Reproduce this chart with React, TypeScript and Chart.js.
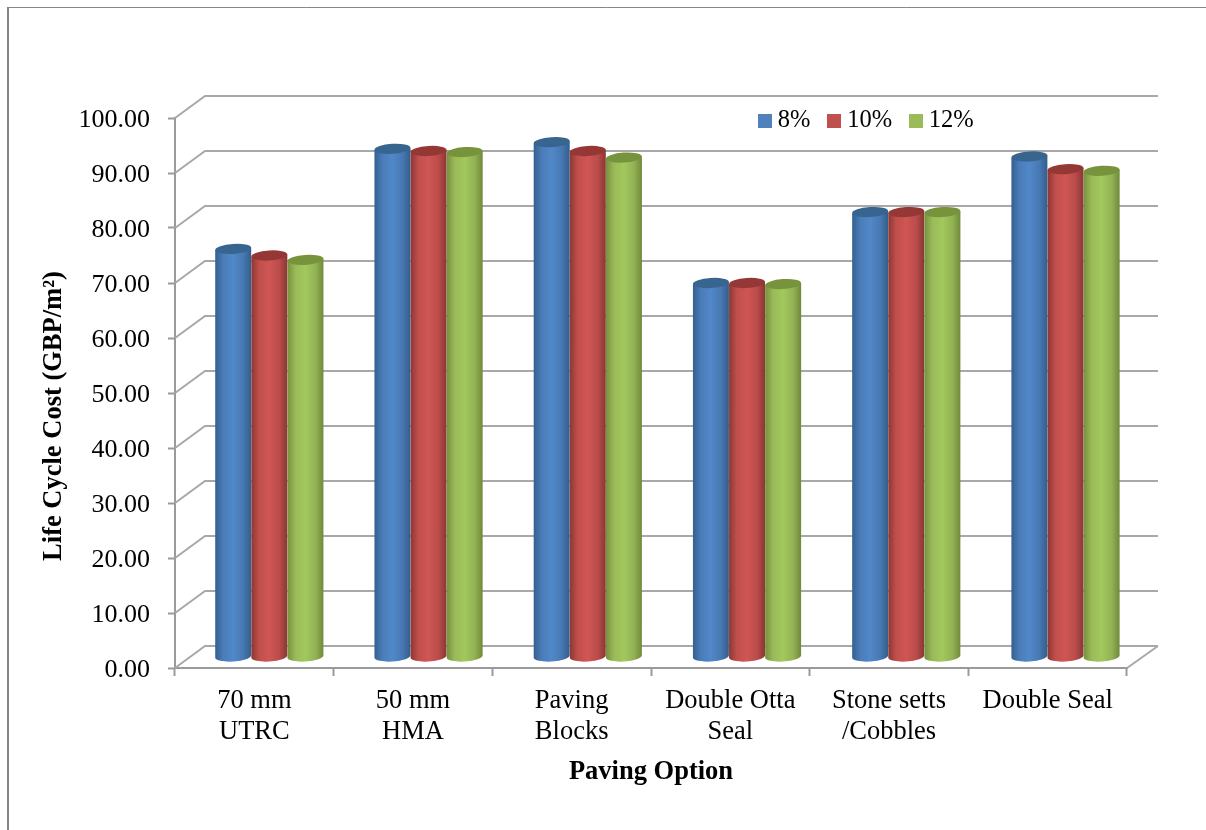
import React, { useEffect, useRef } from "react";
import { Chart, registerables } from "chart.js";

Chart.register(...registerables);

const categories = [
  ["70 mm", "UTRC"],
  ["50 mm", "HMA"],
  ["Paving", "Blocks"],
  ["Double Otta", "Seal"],
  ["Stone setts", "/Cobbles"],
  ["Double Seal"],
];
const rate8 = [74.2, 92.4, 93.6, 68, 80.9, 91];
const rate10 = [73, 92, 92, 68, 80.9, 88.7];
const rate12 = [72.2, 91.8, 90.8, 67.8, 80.9, 88.4];
const seriesNames = ["8%", "10%", "12%"];

const colors = ["#4f81bd", "#c0504d", "#9bbb59"];
const ramps = [
  ["#355f90", "#4a7cb8", "#5188c9", "#4778b2", "#345d8c"],
  ["#8c3735", "#c04f4c", "#cf5654", "#b94c4a", "#8a3634"],
  ["#76913f", "#9aba58", "#a3c85e", "#93b254", "#6f8a3a"],
];
const caps = ["#386590", "#953735", "#77933c"];

const DEPTH_X = 31;
const DEPTH_Y = 22;
const FONT = "'Liberation Serif', 'Times New Roman', serif";
const GRID = "#a8a8a8";
const AXIS = "#9a9a9a";

const shiftX = (x: number) => x + 15 + (x - 254) * 0.0036;
const shiftY = (y: number) => y - 11;

const swatch = (color: string) => {
  const c = document.createElement("canvas");
  c.width = 14;
  c.height = 14;
  const g = c.getContext("2d")!;
  g.fillStyle = color;
  g.fillRect(0, 0, 14, 14);
  return c;
};

const cylinderPlugin = {
  id: "cylinders",
  // The default flat bars are replaced: each cylinder is drawn from the bar
  // element that the library has placed, blue first so that later series overlap.
  beforeDatasetDraw() {
    return false;
  },
  beforeDatasetsDraw(chart: any) {
    const { ctx } = chart;
    const tilt = -0.065;
    const ry = 5;
    chart.data.datasets.forEach((_: any, idx: number) => {
      chart.getDatasetMeta(idx).data.forEach((bar: any) => {
        const { x, y, base, width } = bar.getProps(["x", "y", "base", "width"], true);
        const cx = shiftX(x);
        const top = shiftY(y);
        const bottom = shiftY(base);
        const rx = width / 2;
        const dy = Math.sin(tilt) * rx;
        const grad = ctx.createLinearGradient(cx - rx, 0, cx + rx, 0);
        [0, 0.22, 0.5, 0.78, 1].forEach((s, i) => grad.addColorStop(s, ramps[idx][i]));
        ctx.save();
        ctx.beginPath();
        ctx.moveTo(cx - rx, top - dy);
        ctx.lineTo(cx - rx, bottom - dy);
        ctx.ellipse(cx, bottom, rx, ry, tilt, Math.PI, 0, true);
        ctx.lineTo(cx + rx, top + dy);
        ctx.closePath();
        ctx.fillStyle = grad;
        ctx.fill();
        ctx.beginPath();
        ctx.ellipse(cx, top, rx, ry, tilt, 0, Math.PI * 2);
        ctx.fillStyle = caps[idx];
        ctx.fill();
        ctx.restore();
      });
    });
  },
};

const framePlugin = {
  id: "frame3d",
  afterLayout(chart: any) {
    const lg = chart.legend;
    if (lg) {
      lg.left = 741;
      lg.top = 85;
      lg.bottom = 135;
      lg.adjustHitBoxes();
    }
    // The y title sits 23px below the middle of the axis in the reference.
    const yScale = chart.scales.y;
    if (yScale && !yScale.__titleMoved) {
      yScale.__titleMoved = true;
      const draw = yScale.drawTitle.bind(yScale);
      yScale.drawTitle = (...a: any[]) => {
        const { top, bottom } = yScale;
        yScale.top = top + 23;
        yScale.bottom = bottom + 23;
        draw(...a);
        yScale.top = top;
        yScale.bottom = bottom;
      };
    }
  },
  beforeDraw(chart: any) {
    const { ctx, width, height } = chart;
    ctx.save();
    ctx.strokeStyle = "#868686";
    ctx.lineWidth = 1;
    ctx.beginPath();
    ctx.moveTo(7, 7.5);
    ctx.lineTo(width, 7.5);
    ctx.stroke();
    ctx.lineWidth = 2;
    ctx.beginPath();
    ctx.moveTo(8, 7);
    ctx.lineTo(8, height);
    ctx.stroke();
    ctx.restore();
  },
  beforeDatasetsDraw(chart: any) {
    const { ctx, chartArea, scales } = chart;
    const yScale = scales.y;
    const { left, right, bottom } = chartArea;
    ctx.save();
    ctx.lineWidth = 2;
    ctx.strokeStyle = GRID;
    yScale.ticks.forEach((t: any) => {
      const y = yScale.getPixelForValue(t.value);
      ctx.beginPath();
      ctx.moveTo(left, y);
      ctx.lineTo(left + DEPTH_X - 1, y - DEPTH_Y);
      ctx.lineTo(right + DEPTH_X, y - DEPTH_Y);
      ctx.stroke();
    });
    ctx.beginPath();
    ctx.moveTo(right, bottom);
    ctx.lineTo(right + DEPTH_X, bottom - DEPTH_Y);
    ctx.stroke();
    ctx.restore();
  },
};

export default function App() {
  const ref = useRef<HTMLCanvasElement>(null);
  useEffect(() => {
    const chart = new Chart(ref.current!, {
      type: "bar",
      data: {
        labels: categories as any,
        datasets: [rate8, rate10, rate12].map((d, i) => ({
          label: seriesNames[i],
          data: d,
          backgroundColor: colors[i],
          categoryPercentage: 108 / 158.7,
          barPercentage: 1,
        })),
      },
      plugins: [framePlugin, cylinderPlugin],
      options: {
        animation: false,
        responsive: false,
        layout: {
          autoPadding: false,
          padding: { left: 38, right: 79, top: 68, bottom: 42 },
        },
        plugins: {
          title: { display: false },
          tooltip: { enabled: false },
          legend: {
            position: "top",
            align: "start",
            fullSize: false,
            maxHeight: 50,
            labels: {
              usePointStyle: true,
              pointStyleWidth: 1,
              padding: 23.5,
              color: "#000",
              font: { family: FONT, size: 24.5 },
              generateLabels: () =>
                seriesNames.map((n, i) => ({
                  text: n,
                  pointStyle: swatch(colors[i]),
                  fontColor: "#000",
                  datasetIndex: i,
                  lineWidth: 0,
                })),
            },
          },
        },
        scales: {
          x: {
            afterFit: (s: any) => {
              s.height = 120;
            },
            grid: {
              display: true,
              drawOnChartArea: false,
              drawTicks: true,
              tickLength: 8,
              tickWidth: 2,
              color: AXIS,
            },
            border: { color: AXIS, width: 2 },
            ticks: {
              color: "#000",
              padding: 10,
              maxRotation: 0,
              autoSkip: false,
              font: { family: FONT, size: 26.5, lineHeight: 1.17 },
            },
            title: {
              display: true,
              text: "Paving Option",
              color: "#000",
              padding: 0,
              font: { family: FONT, size: 26.5, weight: "bold" },
            },
          },
          y: {
            min: 0,
            max: 100,
            afterFit: (s: any) => {
              s.width = 137;
            },
            grid: {
              display: true,
              drawOnChartArea: false,
              drawTicks: true,
              tickLength: 7,
              tickWidth: 2,
              color: AXIS,
            },
            border: { color: AXIS, width: 2 },
            ticks: {
              stepSize: 10,
              color: "#000",
              padding: 18,
              labelOffset: 2,
              callback: (v: any) => Number(v).toFixed(2),
              font: { family: FONT, size: 26 },
            },
            title: {
              display: true,
              text: "Life Cycle Cost (GBP/m²)",
              color: "#000",
              padding: 0,
              font: { family: FONT, size: 26.5, weight: "bold" },
            },
          },
        },
      } as any,
    });
    return () => chart.destroy();
  }, []);
  return (
    <canvas
      ref={ref}
      width={1206}
      height={830}
      style={{ position: "fixed", left: 0, top: 0, width: 1206, height: 830, display: "block" }}
    />
  );
}
